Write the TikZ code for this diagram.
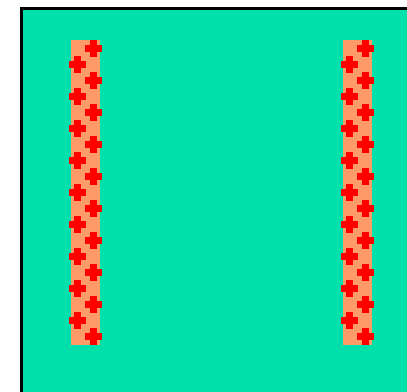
\documentclass[tikz,border=0pt]{standalone}
\usepackage{tikz}
\definecolor{mintbg}{RGB}{0,224,170}
\definecolor{stripfill}{RGB}{255,155,105}

\begin{document}
\begin{tikzpicture}[
  x=1pt, y=-1pt,
  field/.style={fill=mintbg, draw=black, line width=3pt},
  strip/.style={fill=stripfill},
  redplus/.pic={
    \fill[red] (-8.3,-3.3) rectangle (8.3,3.3);
    \fill[red] (-3.3,-8.3) rectangle (3.3,8.3);
  }
]

%% --- page frame ---
\clip (0,0) rectangle (407,391);
\fill[white] (0,0) rectangle (407,391);

%% --- green field, runs off the right and bottom edges ---
\draw[field] (21.5,8.5) rectangle (430,420);

%% --- two strips with staggered crosses ---
\foreach \dx in {0,272} {
  \fill[strip] (71+\dx,40) rectangle (100+\dx,345);
  \foreach \k in {0,...,9}
    \pic at (93.3+\dx, 48.3+32*\k) {redplus};
  \foreach \k in {0,...,8}
    \pic at (77.3+\dx, 64.3+32*\k) {redplus};
}

\end{tikzpicture}
\end{document}
